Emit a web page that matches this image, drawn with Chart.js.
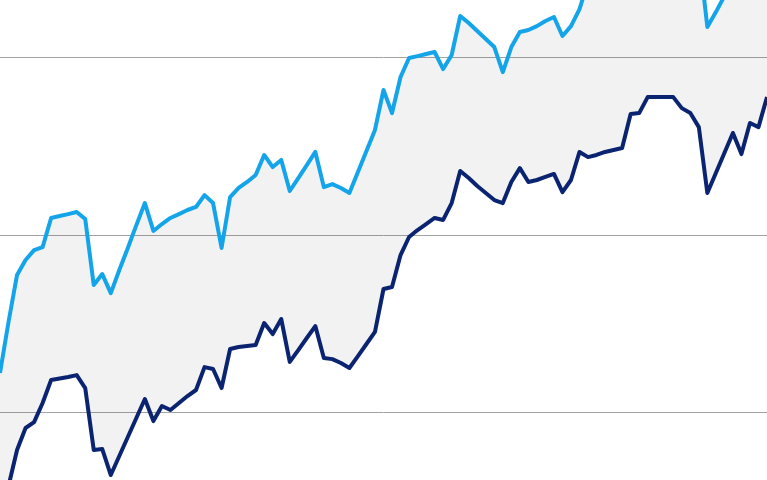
<!DOCTYPE html>
<html>
<head>
<meta charset="utf-8">
<script src="https://cdn.jsdelivr.net/npm/chart.js@4.4.1/dist/chart.umd.min.js"></script>
<style>
html,body{margin:0;padding:0;background:#fff;}
#wrap{width:767px;height:480px;}
</style>
</head>
<body>
<div id="wrap"><canvas id="c" width="767" height="480"></canvas></div>
<script>
const upperSeries = [122.3,151.0,177.5,185.9,191.5,193.2,209.6,210.7,211.8,213.0,
209.0,171.8,178.0,167.3,180.3,192.7,205.6,218.0,202.3,206.2,
209.6,211.8,214.1,215.8,222.5,218.0,192.7,221.4,226.5,229.9,
233.8,245.1,238.3,242.3,224.8,232.1,239.4,246.8,227.0,228.7,
226.5,223.7,235.5,247.3,259.2,281.7,268.7,289.0,299.7,300.8,
302.0,303.1,293.5,301.4,323.4,319.4,314.9,310.4,305.9,291.8,
305.9,314.4,315.5,317.7,320.6,322.8,312.1,317.7,327.3,342.5,
343.7,345.4,346.5,347.6,366.8,367.3,376.3,376.3,376.3,376.3,
370.1,367.3,359.4,317.2,325.6,334.6,343.1,339.2,354.9,352.1,369.0];

const lowerSeries = [26.5,58.6,78.9,91.3,94.6,105.4,118.3,119.2,120.0,121.1,
113.8,78.9,79.4,64.8,75.5,86.2,96.9,107.6,95.2,103.7,
101.4,105.4,109.3,112.7,125.6,124.5,113.8,135.8,136.9,137.5,
138.0,150.4,144.2,152.7,128.5,135.2,142.0,148.7,130.7,130.1,
127.9,125.1,131.8,138.6,145.4,169.6,170.7,188.7,198.9,202.8,
206.2,209.6,208.5,218.0,236.1,232.1,227.6,223.7,219.7,218.0,
229.9,237.7,229.9,231.0,232.7,234.4,224.2,231.0,246.8,243.9,
245.1,246.8,247.9,249.0,268.2,268.7,277.7,277.7,277.7,277.7,
271.5,268.7,260.8,223.7,234.9,246.2,257.5,245.6,263.1,260.8,277.7];

const categories = upperSeries.map((_, i) => 'P' + (i + 1));
const gridTicks = [100, 200, 300];
const yMin = 62;
const yMax = 332.4;

new Chart(document.getElementById('c'), {
  type: 'line',
  data: {
    labels: categories,
    datasets: [
      {
        label: 'Upper',
        data: upperSeries,
        borderColor: '#14a4ea',
        borderWidth: 4,
        pointRadius: 0,
        tension: 0,
        borderJoinStyle: 'round',
        fill: '+1',
        backgroundColor: 'rgba(0,0,0,0.052)'
      },
      {
        label: 'Lower',
        data: lowerSeries,
        borderColor: '#0b2574',
        borderWidth: 4,
        pointRadius: 0,
        tension: 0,
        borderJoinStyle: 'round',
        fill: false
      }
    ]
  },
  options: {
    responsive: false,
    animation: false,
    devicePixelRatio: 1,
    layout: { padding: 0 },
    plugins: {
      legend: { display: false },
      tooltip: { enabled: false }
    },
    scales: {
      x: { display: false, offset: false },
      y: {
        min: yMin,
        max: yMax,
        afterBuildTicks: (axis) => { axis.ticks = gridTicks.map(v => ({ value: v })); },
        ticks: { display: false },
        border: { display: false },
        grid: { color: '#a3a3a3', lineWidth: 1, drawTicks: false }
      }
    }
  }
});
</script>
</body>
</html>
